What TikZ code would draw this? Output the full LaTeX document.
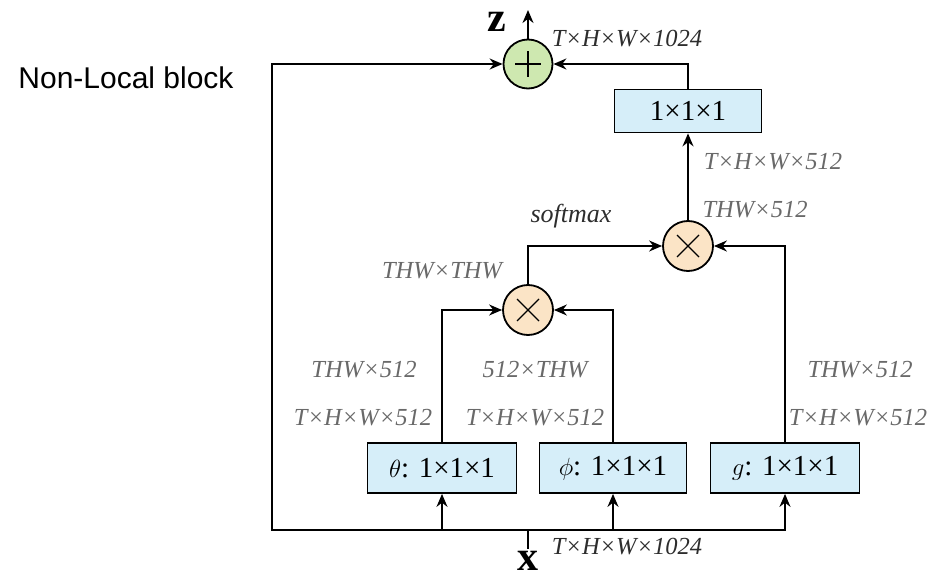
\documentclass[tikz,border=0pt]{standalone}
\usepackage{fontspec}
\setmainfont{Liberation Serif}
\newfontfamily\arialfont{Liberation Sans}
\usetikzlibrary{arrows.meta}
\definecolor{plusfill}{RGB}{206,232,176}
\definecolor{mulfill}{RGB}{251,228,198}
\definecolor{boxfill}{RGB}{214,238,249}
\definecolor{labgray}{RGB}{105,105,105}
\definecolor{labdark}{RGB}{45,45,45}
\begin{document}
\begin{tikzpicture}[x=1pt,y=-1pt, line width=1.8pt,
  >={Stealth[length=13pt,width=11pt]},
  opbox/.style={draw, fill=boxfill, minimum height=50pt, inner sep=0pt,
    font=\fontsize{29}{29}\selectfont},
  plusop/.style={circle, draw, fill=plusfill, minimum size=49pt, inner sep=0pt,
    path picture={
      \draw[line width=1.3pt] ([xshift=-13pt]path picture bounding box.center) -- ([xshift=13pt]path picture bounding box.center);
      \draw[line width=1.3pt] ([yshift=-13pt]path picture bounding box.center) -- ([yshift=13pt]path picture bounding box.center);}},
  mulop/.style={circle, draw, fill=mulfill, minimum size=50pt, inner sep=0pt,
    path picture={
      \draw[line width=1.3pt] ([shift={(-11pt,-11pt)}]path picture bounding box.center) -- ([shift={(11pt,11pt)}]path picture bounding box.center);
      \draw[line width=1.3pt] ([shift={(-11pt,11pt)}]path picture bounding box.center) -- ([shift={(11pt,-11pt)}]path picture bounding box.center);}},
  lab/.style={inner sep=0pt, text=labgray, font=\fontsize{24.5}{24.5}\selectfont\itshape},
  labd/.style={inner sep=0pt, text=labdark, font=\fontsize{24.5}{24.5}\selectfont\itshape},
  vec/.style={inner sep=0pt, font=\fontsize{42}{42}\selectfont\bfseries}
]
\useasboundingbox (0,0) rectangle (929,580);

% operators
\node[plusop] (plus) at (528,64) {};
\node[mulop] (mul1) at (528,310) {};
\node[mulop] (mul2) at (688,246) {};

% boxes
\node[opbox, minimum width=147pt, minimum height=43pt] (conv) at (688,111) {1×1×1};
\node[opbox, minimum width=149pt] (theta) at (442,468) {$\theta$: 1×1×1};
\node[opbox, minimum width=147pt] (phi) at (613,468) {$\phi$: 1×1×1};
\node[opbox, minimum width=149pt] (g) at (785,468) {$g$: 1×1×1};

% coordinates
\coordinate (xin) at (528,530);
\coordinate (xtail) at (528,549);
\coordinate (bl) at (272,530);
\coordinate (zout) at (528,10);

% connectors
\draw[->] (plus.north) -- (zout);
\draw[->] (conv.north) |- (plus.east);
\draw[->] (mul2.north) -- (conv.south);
\draw[->] (mul1.north) |- (mul2.west);
\draw[->] (g.north) |- (mul2.east);
\draw[->] (theta.north) |- (mul1.west);
\draw[->] (phi.north) |- (mul1.east);
\draw[->] (xin) -- (bl) |- (plus.west);
\draw[->] (xin) -| (g.south);
\draw[->] (theta.south |- xin) -- (theta.south);
\draw[->] (phi.south |- xin) -- (phi.south);
\draw (xin) -- (xtail);

% labels
\node[vec] (zlab) at (497,22) {z};
\node[vec] (xlab) at (528,561) {x};
\node[labd] (l1) at (627,39) {T×H×W×1024};
\node[labd] (l2) at (627,547) {T×H×W×1024};
\node[lab] (l3) at (773,162) {T×H×W×512};
\node[lab] (l4) at (755,210) {THW×512};
\node[labd, font=\fontsize{26}{26}\selectfont\itshape] (soft) at (571,216) {softmax};
\node[lab] (l5) at (442,271) {THW×THW};
\node[lab] (l6) at (364,370) {THW×512};
\node[lab] (l7) at (363,418) {T×H×W×512};
\node[lab] (l8) at (535,370) {512×THW};
\node[lab] (l9) at (535,418) {T×H×W×512};
\node[lab] (l10) at (860,370) {THW×512};
\node[lab] (l11) at (858,418) {T×H×W×512};

\node[inner sep=0pt, font=\arialfont\fontsize{30}{30}\selectfont] (title) at (126,78) {Non-Local block};
\end{tikzpicture}
\end{document}
